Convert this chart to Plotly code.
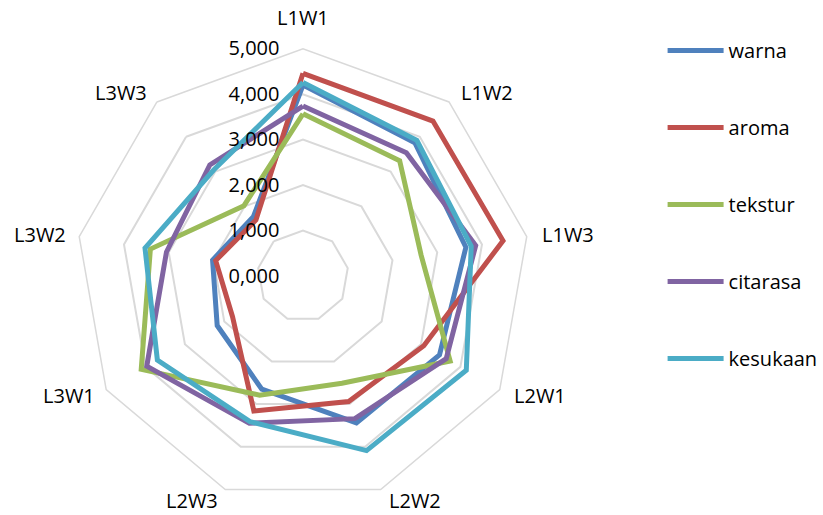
import math
import plotly.graph_objects as go

# Sensory panel scores per sample
categories = ["L1W1", "L1W2", "L1W3", "L2W1", "L2W2", "L2W3", "L3W1", "L3W2", "L3W3"]

warna = [4.20, 3.83, 3.64, 3.47, 3.44, 2.65, 2.18, 2.02, 1.70]
aroma = [4.46, 4.45, 4.47, 3.07, 2.94, 3.16, 1.79, 1.95, 1.61]
tekstur = [3.57, 3.31, 2.64, 3.74, 2.51, 2.79, 4.11, 3.41, 2.02]
citarasa = [3.74, 3.54, 3.86, 3.64, 3.34, 3.45, 3.97, 3.05, 3.19]
kesukaan = [4.26, 3.90, 3.76, 4.15, 4.09, 3.41, 3.70, 3.53, 3.05]

series_names = ["warna", "aroma", "tekstur", "citarasa", "kesukaan"]
series_values = [warna, aroma, tekstur, citarasa, kesukaan]
series_colors = ["#4F81BD", "#C0504D", "#9BBB59", "#8064A2", "#4BACC6"]

radial_ticks = [0, 1, 2, 3, 4, 5]
radial_ticktext = ["0,000", "1,000", "2,000", "3,000", "4,000", "5,000"]

FONT = "Open Sans"

fig = go.Figure()
for name, vals, color in zip(series_names, series_values, series_colors):
    fig.add_trace(go.Scatterpolar(
        r=vals + vals[:1],
        theta=categories + categories[:1],
        mode="lines",
        name=name,
        legendgroup=name,
        line=dict(color=color, width=5),
    ))

W, H = 823, 515
cx, cy, rad = 306.7, 276.0, 230.0

# Category labels sit just outside each vertex of the outer polygon
n = len(categories)
for i, cat in enumerate(categories):
    a = 2 * math.pi * i / n
    s, c = math.sin(a), math.cos(a)
    vx, vy = cx + rad * s, cy - rad * c
    if abs(s) < 0.1:
        x, y, xa, ya = vx, vy - 13, "center", "bottom"
    else:
        gap = 3 + 11 * abs(s) if s > 0 else 2 + 9 * abs(s)
        x = vx + gap if s > 0 else vx - gap
        y = vy - 9 * c
        xa, ya = ("left" if s > 0 else "right"), "middle"
    fig.add_annotation(
        x=x / W, y=1 - y / H, xref="paper", yref="paper",
        text=cat, showarrow=False, xanchor=xa, yanchor=ya,
        font=dict(family=FONT, size=20, color="#000000"),
    )

fig.update_layout(
    width=W, height=H,
    margin=dict(l=0, r=0, t=0, b=0),
    paper_bgcolor="white",
    plot_bgcolor="white",
    font=dict(family=FONT, size=20, color="#000000"),
    polar=dict(
        domain=dict(x=[(cx - rad) / W, (cx + rad) / W],
                    y=[(H - cy - rad) / H, (H - cy + rad) / H]),
        gridshape="linear",
        bgcolor="white",
        radialaxis=dict(
            range=[0, 5],
            tickvals=radial_ticks,
            ticktext=radial_ticktext,
            angle=90,
            side="counterclockwise",
            tickangle=90,
            showline=False,
            ticks="outside",
            ticklen=16,
            tickcolor="rgba(0,0,0,0)",
            showgrid=True,
            gridcolor="#D9D9D9",
            gridwidth=1.5,
            tickfont=dict(family=FONT, size=20, color="#000000"),
        ),
        angularaxis=dict(
            direction="clockwise",
            rotation=90,
            showgrid=False,
            showline=True,
            linecolor="#D9D9D9",
            linewidth=1.5,
            ticks="",
            showticklabels=False,
        ),
    ),
    legend=dict(
        x=0.815, y=0.94, xanchor="left", yanchor="top",
        tracegroupgap=48,
        itemwidth=56,
        font=dict(family=FONT, size=20, color="#000000"),
        bgcolor="rgba(0,0,0,0)",
    ),
)

fig.write_html("out.html")
